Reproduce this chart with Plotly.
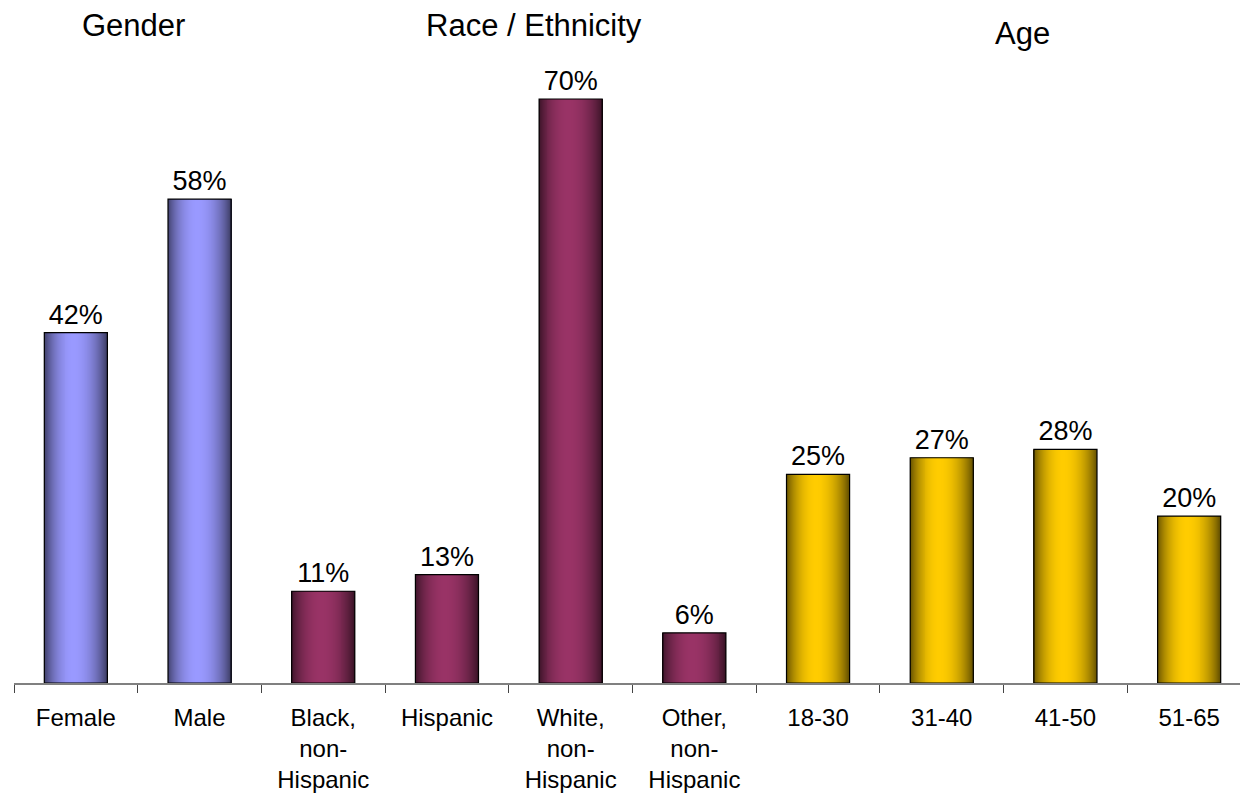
import plotly.graph_objects as go

# Survey sample profile by demographic group
categories = ["Female", "Male", "Black,<br>non-<br>Hispanic", "Hispanic",
              "White,<br>non-<br>Hispanic", "Other,<br>non-<br>Hispanic",
              "18-30", "31-40", "41-50", "51-65"]
values = [42, 58, 11, 13, 70, 6, 25, 27, 28, 20]
groups = ["Gender", "Gender", "Race", "Race", "Race", "Race",
          "Age", "Age", "Age", "Age"]
group_titles = ["Gender", "Race / Ethnicity", "Age"]

base_colors = {"Gender": (153, 153, 255), "Race": (153, 51, 102), "Age": (255, 204, 0)}

FONT = "Liberation Sans, Arial, sans-serif"
BAR_W = 0.51
N_SLICES = 64


def shade(rgb, f):
    return "rgb({},{},{})".format(*(int(round(c * f)) for c in rgb))


def brightness(t):
    # cylinder-like shading: dark edges, bright centre slightly left of middle
    c = 0.47
    d = (t - c) / (c if t < c else 1 - c)
    return 0.38 + 0.62 * (1 - d * d) ** 0.9


fig = go.Figure()

# shaded bars built from thin vertical slices
step = BAR_W / N_SLICES
for i in range(N_SLICES):
    t = (i + 0.5) / N_SLICES
    f = brightness(t)
    fig.add_trace(go.Bar(
        x=categories, y=values,
        width=step * 2 if i < N_SLICES - 1 else step,
        offset=-BAR_W / 2 + i * step,
        marker=dict(color=[shade(base_colors[g], f) for g in groups], line=dict(width=0)),
        hoverinfo="skip", showlegend=False,
    ))

# outline and value labels
fig.add_trace(go.Bar(
    x=categories, y=values, width=BAR_W,
    marker=dict(color="rgba(0,0,0,0)", line=dict(color="black", width=1.2)),
    text=[f"{v}%" for v in values],
    textposition="outside",
    textfont=dict(family=FONT, size=27, color="black"),
    cliponaxis=False,
    showlegend=False,
))

fig.update_layout(
    width=1240, height=797,
    barmode="overlay",
    margin=dict(l=14, r=0, t=20, b=114),
    paper_bgcolor="white", plot_bgcolor="white",
    font=dict(family=FONT, color="black"),
    xaxis=dict(
        type="category",
        range=[-0.5, 9.411],
        tickson="boundaries",
        ticks="outside", ticklen=8, tickcolor="#444444", tickwidth=1,
        showline=True, linecolor="#808080", linewidth=2,
        showgrid=False, zeroline=False,
        tickfont=dict(family=FONT, size=24, color="black"),
        ticklabelstandoff=12,
    ),
    yaxis=dict(visible=False, range=[0, 79.47]),
)

# group headings
title_pos = [(0.47, 0.991), (3.7, 0.991), (7.65, 0.979)]
for txt, (tx, ty) in zip(group_titles, title_pos):
    fig.add_annotation(text=txt, x=tx, y=ty, xref="x", yref="paper",
                       xanchor="center", yanchor="middle", showarrow=False,
                       font=dict(family=FONT, size=31, color="black"))

fig.write_html("out.html")
